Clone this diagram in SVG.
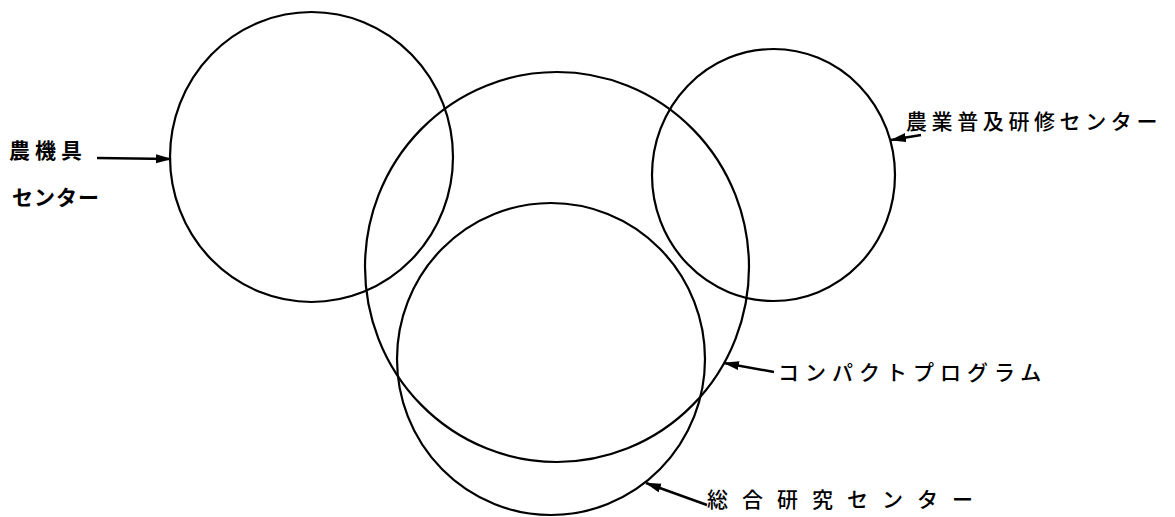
<svg xmlns="http://www.w3.org/2000/svg" width="1175" height="517" viewBox="0 0 1175 517">
<style>
.c{fill:none;stroke:#000;stroke-width:2.2}
.a{fill:none;stroke:#000;stroke-width:2.4;marker-end:url(#ah)}
.t{font-family:"Noto Sans CJK JP","Noto Sans CJK SC",sans-serif;font-size:21px;font-weight:500;fill:#000}
.b{font-weight:bold}
</style>
<defs>
<marker id="ah" markerUnits="userSpaceOnUse" markerWidth="16" markerHeight="10" refX="15" refY="5" orient="auto">
<path d="M0,0.5 L16,5 L0,9.5 Z" fill="#000"/>
</marker>
</defs>
<rect width="1175" height="517" fill="#fff"/>
<g id="n-noukiguCenter">
<ellipse class="c" cx="311.5" cy="157" rx="141.5" ry="145"/>
<text class="t b" x="9" y="158" font-size="22" letter-spacing="5">農機具</text>
<text class="t b" x="12" y="205" letter-spacing="1">センター</text>
</g>
<g id="n-compactProgram">
<ellipse class="c" cx="557" cy="267" rx="192" ry="195"/>
<text class="t" x="778" y="380" letter-spacing="6">コンパクトプログラム</text>
</g>
<g id="n-fukyuCenter">
<ellipse class="c" cx="773.5" cy="175" rx="121.5" ry="126"/>
<text class="t" x="906" y="129" letter-spacing="4.6">農業普及研修センター</text>
</g>
<g id="n-sogoCenter">
<ellipse class="c" cx="551" cy="359" rx="154" ry="156"/>
<text class="t" x="707" y="507" font-size="22" letter-spacing="14">総合研究センター</text>
</g>
<g id="connectors">
<line class="a" x1="97" y1="158" x2="171" y2="159"/>
<line class="a" x1="921" y1="135" x2="891" y2="140"/>
<line class="a" x1="774" y1="372" x2="724" y2="363"/>
<line class="a" x1="707" y1="505" x2="646" y2="483"/>
</g>
</svg>
